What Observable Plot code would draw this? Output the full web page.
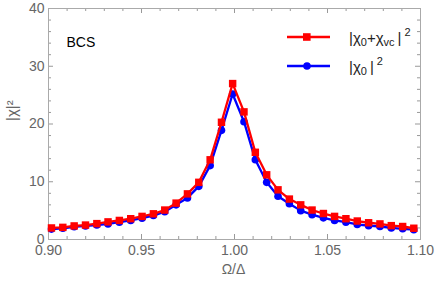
<!DOCTYPE html>
<html><head><meta charset="utf-8">
<script src="https://cdn.jsdelivr.net/npm/d3@7"></script>
<script src="https://cdn.jsdelivr.net/npm/@observablehq/plot@0.6"></script>
<style>
body{margin:0;background:#fff;}
#wrap{position:relative;width:436px;height:285px;font-family:"Liberation Sans",Arial,sans-serif;}
.leg{position:absolute;left:285px;display:flex;align-items:center;font-size:15px;color:#222;white-space:nowrap;}
.leg svg{margin-right:18px;}
.leg sub{font-size:11px;vertical-align:-3px;}
.leg sup{font-size:11px;vertical-align:7px;margin-left:3px;}
</style></head><body><div id="wrap"></div>
<script>
// Ω/Δ sample points
const omega = [0.9016, 0.9077, 0.9138, 0.9199, 0.9260, 0.9320, 0.9381, 0.9442, 0.9503, 0.9564, 0.9625,
  0.9686, 0.9747, 0.9808, 0.9869, 0.9930, 0.9990, 1.0051, 1.0112, 1.0173, 1.0234, 1.0295, 1.0356,
  1.0417, 1.0478, 1.0538, 1.0599, 1.0660, 1.0721, 1.0782, 1.0843, 1.0904, 1.0964];
// |χ0+χvc|^2 (red squares)
const chiTotal = [2.0, 2.1, 2.35, 2.5, 2.75, 3.05, 3.3, 3.6, 4.0, 4.45, 5.1, 6.3, 7.9, 9.9, 13.8, 20.3,
  27.0, 22.1, 15.1, 11.2, 8.6, 7.0, 6.0, 5.1, 4.5, 4.0, 3.6, 3.2, 2.9, 2.7, 2.4, 2.25, 1.95];
// |χ0|^2 (blue circles)
const chiBare = [1.8, 1.95, 2.2, 2.35, 2.5, 2.7, 3.0, 3.3, 3.7, 4.15, 4.8, 6.0, 7.2, 9.2, 12.8, 18.9,
  25.2, 20.4, 13.8, 9.9, 7.5, 6.2, 5.0, 4.3, 3.75, 3.3, 3.0, 2.6, 2.4, 2.25, 2.0, 1.85, 1.7];

const xTicks = [0.90, 0.95, 1.00, 1.05, 1.10];
const xTickLabels = ["0.90", "0.95", "1.00", "1.05", "1.10"];
const yTicks = [0, 10, 20, 30, 40];
const yTickLabels = ["0", "10", "20", "30", "40"];
const xMinor = d3.range(0, 21).map(i => 0.9 + i * 0.01).filter(d => !xTicks.some(t => Math.abs(t - d) < 1e-9));
const yMinor = d3.range(0, 21).map(i => i * 2).filter(d => !yTicks.includes(d));

const red = omega.map((x, i) => ({x, y: chiTotal[i]}));
const blue = omega.map((x, i) => ({x, y: chiBare[i]}));

const W = 436, H = 285, mL = 48, mR = 16, mT = 8, mB = 46;
const pw = W - mL - mR, ph = H - mT - mB;
const tickColor = "#999";
const tk = {stroke: tickColor, strokeWidth: 1};
function xTickMarks(vals, len) {
  return [Plot.ruleX(vals, {...tk, insetTop: ph - len}), Plot.ruleX(vals, {...tk, insetBottom: ph - len})];
}
function yTickMarks(vals, len) {
  return [Plot.ruleY(vals, {...tk, insetRight: pw - len}), Plot.ruleY(vals, {...tk, insetLeft: pw - len})];
}

const chart = Plot.plot({
  width: W, height: H,
  marginLeft: mL, marginRight: mR, marginTop: mT, marginBottom: mB,
  style: {fontFamily: "Liberation Sans, Arial, sans-serif", fontSize: "14px", color: "#666", background: "#fff"},
  x: {domain: [0.9, 1.1], label: null},
  y: {domain: [0, 40], label: null},
  marks: [
    ...xTickMarks(xMinor, 3), ...xTickMarks(xTicks, 5),
    ...yTickMarks(yMinor, 3), ...yTickMarks(yTicks, 5),
    Plot.frame({stroke: "#aaa", strokeWidth: 1}),
    Plot.axisX(xTicks, {anchor: "bottom", tickSize: 0, tickPadding: 6, fill: "#666", label: null,
      tickFormat: d => xTickLabels[xTicks.findIndex(t => Math.abs(t - d) < 1e-9)]}),
    Plot.axisY(yTicks, {anchor: "left", tickSize: 0, tickPadding: 4, fill: "#666", label: null,
      tickFormat: d => yTickLabels[yTicks.indexOf(d)]}),
    Plot.line(blue, {x: "x", y: "y", stroke: "#0000ff", strokeWidth: 2.3}),
    Plot.dot(blue, {x: "x", y: "y", fill: "#0000ff", r: 3.8, symbol: "circle"}),
    Plot.line(red, {x: "x", y: "y", stroke: "#ff0000", strokeWidth: 2.3}),
    Plot.dot(red, {x: "x", y: "y", fill: "#ff0000", r: 4.2, symbol: "square"}),
    Plot.text(["BCS"], {frameAnchor: "top-left", dx: 18, dy: 29, fill: "#000", fontSize: 14, textAnchor: "start"}),
    Plot.text(["Ω/Δ"], {frameAnchor: "bottom", dx: -1, dy: 34, fill: "#666", fontSize: 14}),
    Plot.text(["|χ|²"], {frameAnchor: "left", dx: -36, dy: -3, rotate: -90, fill: "#666", fontSize: 15})
  ]
});
const wrap = document.getElementById("wrap");
wrap.appendChild(chart);

function legendRow(top, color, shape, html) {
  const div = document.createElement("div");
  div.className = "leg";
  div.style.top = (top - 10) + "px";
  const sym = shape === "square"
    ? `<rect x="18" y="6.2" width="7.6" height="7.6" fill="${color}"/>`
    : `<circle cx="22" cy="10" r="3.8" fill="${color}"/>`;
  div.innerHTML = `<svg width="46" height="20"><line x1="2" x2="45" y1="10" y2="10" stroke="${color}" stroke-width="2.3"/>${sym}</svg><span>${html}</span>`;
  wrap.appendChild(div);
}
legendRow(36, "#ff0000", "square", "|χ<sub>0</sub>+χ<sub>vc</sub>&thinsp;|<sup>2</sup>");
legendRow(65, "#0000ff", "circle", "|χ<sub>0</sub>&thinsp;|<sup>2</sup>");
</script>
</body></html>
